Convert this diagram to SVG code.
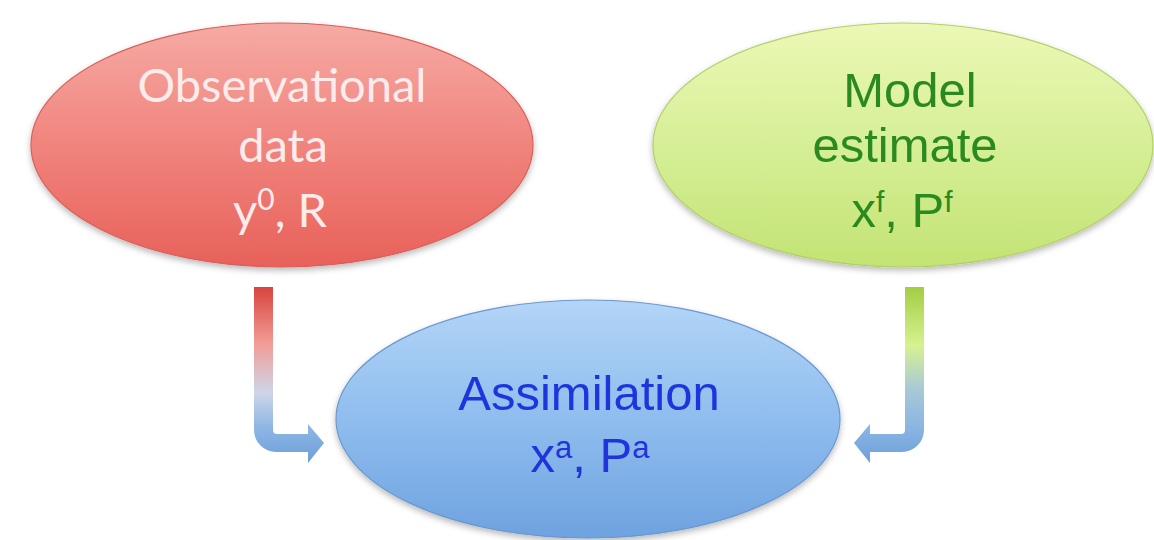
<svg xmlns="http://www.w3.org/2000/svg" width="1154" height="540" viewBox="0 0 1154 540">
  <defs>
    <linearGradient id="gRed" x1="0" y1="0" x2="0" y2="1">
      <stop offset="0" stop-color="#f6aaa4"/>
      <stop offset="0.5" stop-color="#f0847d"/>
      <stop offset="1" stop-color="#e8615a"/>
    </linearGradient>
    <linearGradient id="gGreen" x1="0" y1="0" x2="0" y2="1">
      <stop offset="0" stop-color="#ecf8b6"/>
      <stop offset="0.5" stop-color="#d6ef97"/>
      <stop offset="1" stop-color="#c3e374"/>
    </linearGradient>
    <linearGradient id="gBlue" x1="0" y1="0" x2="0" y2="1">
      <stop offset="0" stop-color="#b3d5f7"/>
      <stop offset="0.5" stop-color="#8fbdee"/>
      <stop offset="1" stop-color="#6ea2e0"/>
    </linearGradient>
    <linearGradient id="aRed" gradientUnits="userSpaceOnUse" x1="0" y1="287" x2="0" y2="463">
      <stop offset="0" stop-color="#d7443e"/>
      <stop offset="0.32" stop-color="#f29c96"/>
      <stop offset="0.6" stop-color="#cdd6e8"/>
      <stop offset="0.8" stop-color="#8db6e3"/>
      <stop offset="1" stop-color="#6c9fda"/>
    </linearGradient>
    <linearGradient id="aGreen" gradientUnits="userSpaceOnUse" x1="0" y1="287" x2="0" y2="463">
      <stop offset="0" stop-color="#a3cd43"/>
      <stop offset="0.33" stop-color="#d6f290"/>
      <stop offset="0.58" stop-color="#a9c9d6"/>
      <stop offset="0.8" stop-color="#8ab5e2"/>
      <stop offset="1" stop-color="#6c9fda"/>
    </linearGradient>
    <filter id="shadow" x="-10%" y="-10%" width="120%" height="130%">
      <feDropShadow dx="0" dy="3" stdDeviation="3" flood-color="#000" flood-opacity="0.28"/>
    </filter>
    <filter id="soft" x="-20%" y="-10%" width="140%" height="120%">
      <feGaussianBlur stdDeviation="0.7"/>
    </filter>
  </defs>
  <style>
    .ell { stroke-width: 1.2; filter: url(#shadow); }
    .cal { font-family: Lato, "Open Sans", "Liberation Sans", sans-serif; font-size: 47px; fill: #fdeceb; text-anchor: middle; }
    .ari { font-family: "Liberation Sans", Arial, sans-serif; font-size: 49px; text-anchor: middle; }
    .grn { fill: #2b8a1f; }
    .blu { fill: #1f34dc; }
  </style>
  <rect width="1154" height="540" fill="#ffffff"/>

  <g id="connectors" filter="url(#soft)">
    <path id="arrow-obs" fill="url(#aRed)" d="M254,287 H273 V430 A4,4 0 0 0 277,434 H308 V424 L324,443 L308,463 V452 H276 A22,22 0 0 1 254,430 Z"/>
    <path id="arrow-model" fill="url(#aGreen)" d="M924,287 H905 V430 A4,4 0 0 1 901,434 H870 V424 L854,443 L870,463 V452 H902 A22,22 0 0 0 924,430 Z"/>
  </g>

  <g id="node-observational">
    <ellipse class="ell" cx="282" cy="145" rx="251" ry="122" fill="url(#gRed)" stroke="#d9605a"/>
    <text class="cal" x="282" y="102">Observational</text>
    <text class="cal" x="283" y="162">data</text>
    <text class="cal" x="280" y="227">y<tspan dy="-17" font-size="30">0</tspan><tspan dy="17">, R</tspan></text>
  </g>

  <g id="node-model">
    <ellipse class="ell" cx="903" cy="145" rx="250" ry="122" fill="url(#gGreen)" stroke="#b3cf6a"/>
    <text class="ari grn" x="910" y="107">Model</text>
    <text class="ari grn" x="905" y="162">estimate</text>
    <text class="ari grn" x="902" y="227">x<tspan dy="-15" font-size="30">f</tspan><tspan dy="15">, P</tspan><tspan dy="-15" font-size="30">f</tspan></text>
  </g>

  <g id="node-assimilation">
    <ellipse class="ell" cx="588" cy="419" rx="252" ry="119" fill="url(#gBlue)" stroke="#6b98cf"/>
    <text class="ari blu" x="589" y="410">Assimilation</text>
    <text class="ari blu" x="590" y="472">x<tspan dy="-14" font-size="31">a</tspan><tspan dy="14">, P</tspan><tspan dy="-14" font-size="31">a</tspan></text>
  </g>
</svg>
